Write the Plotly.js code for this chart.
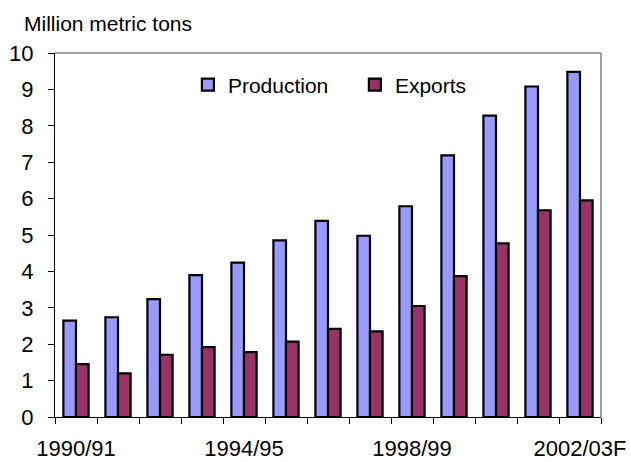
<!DOCTYPE html>
<html>
<head>
<meta charset="utf-8">
<script src="https://cdn.plot.ly/plotly-3.0.1.min.js"></script>
<style>html,body{margin:0;padding:0;background:#fff;}#chart{width:631px;height:462px;}</style>
</head>
<body>
<div id="chart"></div>
<script>
var categories = ["1990/91","1991/92","1992/93","1993/94","1994/95","1995/96","1996/97","1997/98","1998/99","1999/00","2000/01","2001/02","2002/03F"];
var production = [2.65, 2.74, 3.24, 3.90, 4.24, 4.85, 5.39, 4.98, 5.79, 7.19, 8.28, 9.08, 9.48];
var exports_ = [1.45, 1.20, 1.71, 1.92, 1.78, 2.07, 2.42, 2.35, 3.05, 3.87, 4.77, 5.68, 5.95];
var labelEvery = 4;
var yTitle = "Million metric tons";

var idx = categories.map(function(c, i){ return i; });
var tickIdx = idx.filter(function(i){ return i % labelEvery === 0; });
var FONT = "Arial, 'Liberation Sans', sans-serif";
var xr = [-0.5, categories.length - 0.5];

var traces = [
  {type:"bar", name:"Production", x:idx, y:production, text:categories, hoverinfo:"text+y",
   marker:{color:"#9999FF", line:{color:"#000000", width:2.2}}},
  {type:"bar", name:"Exports", x:idx, y:exports_, text:categories, hoverinfo:"text+y",
   marker:{color:"#993366", line:{color:"#000000", width:2.2}}},
  {type:"scatter", x:[], y:[], xaxis:"x2", yaxis:"y", showlegend:false, hoverinfo:"skip"}
];
traces[0].textposition = "none";
traces[1].textposition = "none";

var layout = {
  width:631, height:462,
  margin:{l:55, r:29.5, t:53, b:45, pad:0},
  paper_bgcolor:"#ffffff", plot_bgcolor:"#ffffff",
  font:{family:FONT, size:21, color:"#000000"},
  barmode:"group", bargap:0.4, bargroupgap:0,
  showlegend:true,
  legend:{orientation:"h", x:0.2434, y:0.912, xanchor:"left", yanchor:"middle",
          entrywidth:122, entrywidthmode:"pixels",
          font:{family:FONT, size:21, color:"#000"}, bgcolor:"rgba(0,0,0,0)", traceorder:"normal"},
  xaxis:{type:"linear", range:xr, showgrid:false, zeroline:false,
         tickmode:"array", tickvals:tickIdx, ticktext:tickIdx.map(function(i){return categories[i];}),
         ticks:"", ticklabelstandoff:12, showline:true, linecolor:"#000", linewidth:1,
         tickfont:{family:FONT, size:22}, automargin:false},
  xaxis2:{type:"linear", range:xr, overlaying:"x", anchor:"y", side:"bottom",
          showgrid:false, zeroline:false, showticklabels:false, showline:false,
          tickmode:"linear", tick0:-0.5, dtick:1, ticks:"outside", ticklen:6,
          tickcolor:"#000", tickwidth:1},
  yaxis:{range:[0,10], dtick:1, tick0:0, showgrid:false, zeroline:false,
         ticks:"outside", ticklen:6, tickcolor:"#000", tickwidth:1, ticklabelstandoff:10,
         showline:true, linecolor:"#000", linewidth:1,
         tickfont:{family:FONT, size:22}, automargin:false},
  shapes:[
    {type:"line", xref:"paper", yref:"paper", x0:0, x1:1, y0:1, y1:1, line:{color:"#808080", width:1.5}},
    {type:"line", xref:"paper", yref:"paper", x0:1, x1:1, y0:0, y1:1, line:{color:"#808080", width:1.5}}
  ],
  annotations:[
    {text:yTitle, xref:"paper", yref:"paper", x:-0.06, y:1.08, xanchor:"left", yanchor:"middle",
     showarrow:false, font:{family:FONT, size:21, color:"#000"}}
  ]
};

Plotly.newPlot("chart", traces, layout, {displayModeBar:false, staticPlot:true});
</script>
</body>
</html>
